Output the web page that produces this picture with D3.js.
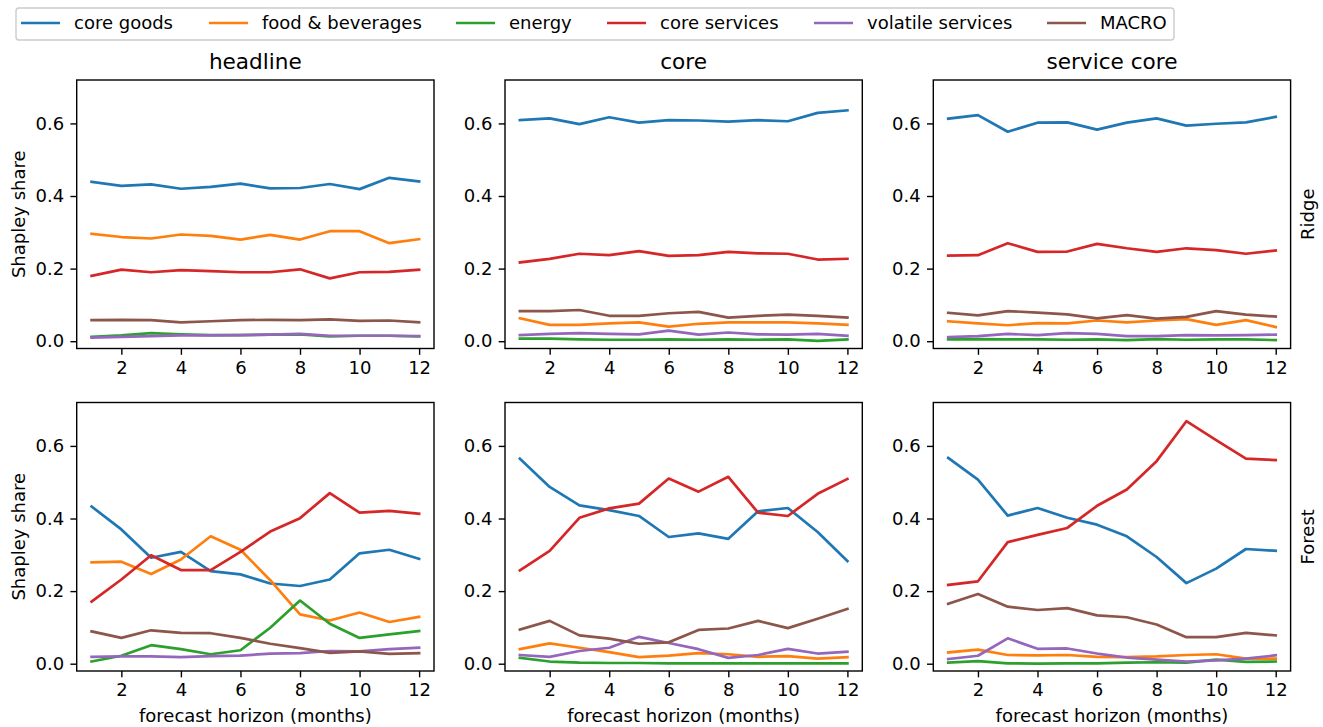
<!DOCTYPE html>
<html>
<head>
<meta charset="utf-8">
<script src="https://cdn.jsdelivr.net/npm/d3@7"></script>
<style>
  html, body { margin: 0; padding: 0; background: #fff; }
  svg { display: block; font-family: "DejaVu Sans", sans-serif; }
</style>
</head>
<body>
<svg id="chart" width="1323" height="727"></svg>
<script>
// Series names and colours (legend order = drawing order)
const components = ["core goods", "food & beverages", "energy", "core services", "volatile services", "MACRO"];
const colors = ["#1f77b4", "#ff7f0e", "#2ca02c", "#d62728", "#9467bd", "#8c564b"];
const horizons = [1, 2, 3, 4, 5, 6, 7, 8, 9, 10, 11, 12];
const xTicks = [2, 4, 6, 8, 10, 12];
const yTicks = [0.0, 0.2, 0.4, 0.6];
const targets = ["headline", "core", "service core"];
const models = ["Ridge", "Forest"];

// Shapley shares per horizon, one row per component (same order as `components`)
const ridgeHeadline = [
  [0.439, 0.428, 0.432, 0.420, 0.425, 0.434, 0.421, 0.422, 0.433, 0.419, 0.450, 0.440],
  [0.296, 0.287, 0.283, 0.294, 0.290, 0.280, 0.293, 0.280, 0.303, 0.303, 0.270, 0.281],
  [0.012, 0.016, 0.022, 0.019, 0.017, 0.017, 0.018, 0.019, 0.013, 0.015, 0.015, 0.013],
  [0.180, 0.197, 0.190, 0.196, 0.193, 0.190, 0.190, 0.198, 0.173, 0.190, 0.191, 0.197],
  [0.010, 0.012, 0.014, 0.016, 0.016, 0.017, 0.018, 0.020, 0.015, 0.015, 0.015, 0.014],
  [0.058, 0.059, 0.058, 0.052, 0.055, 0.058, 0.059, 0.058, 0.060, 0.056, 0.057, 0.052]
];
const ridgeCore = [
  [0.609, 0.614, 0.598, 0.617, 0.602, 0.609, 0.608, 0.605, 0.609, 0.606, 0.629, 0.636],
  [0.063, 0.045, 0.045, 0.049, 0.052, 0.040, 0.048, 0.052, 0.052, 0.052, 0.049, 0.045],
  [0.007, 0.007, 0.005, 0.004, 0.004, 0.005, 0.004, 0.005, 0.004, 0.005, 0.001, 0.005],
  [0.217, 0.227, 0.241, 0.237, 0.248, 0.235, 0.237, 0.246, 0.242, 0.241, 0.225, 0.227],
  [0.017, 0.020, 0.022, 0.020, 0.019, 0.029, 0.018, 0.024, 0.019, 0.018, 0.020, 0.015],
  [0.083, 0.083, 0.086, 0.070, 0.070, 0.077, 0.081, 0.065, 0.070, 0.073, 0.070, 0.065]
];
const ridgeServiceCore = [
  [0.613, 0.623, 0.577, 0.602, 0.603, 0.583, 0.602, 0.614, 0.594, 0.599, 0.603, 0.618],
  [0.055, 0.049, 0.044, 0.050, 0.049, 0.057, 0.052, 0.057, 0.061, 0.045, 0.058, 0.039],
  [0.005, 0.006, 0.005, 0.005, 0.004, 0.005, 0.003, 0.006, 0.004, 0.005, 0.005, 0.003],
  [0.236, 0.237, 0.270, 0.246, 0.247, 0.268, 0.256, 0.246, 0.256, 0.251, 0.241, 0.250],
  [0.011, 0.014, 0.020, 0.017, 0.022, 0.020, 0.014, 0.014, 0.017, 0.016, 0.017, 0.018],
  [0.078, 0.071, 0.083, 0.079, 0.074, 0.063, 0.072, 0.062, 0.067, 0.083, 0.073, 0.068]
];
const forestHeadline = [
  [0.433, 0.370, 0.292, 0.308, 0.255, 0.246, 0.221, 0.214, 0.232, 0.304, 0.314, 0.289],
  [0.279, 0.281, 0.247, 0.287, 0.351, 0.314, 0.230, 0.136, 0.119, 0.141, 0.115, 0.129],
  [0.006, 0.022, 0.051, 0.040, 0.026, 0.037, 0.099, 0.174, 0.110, 0.071, 0.081, 0.090],
  [0.171, 0.232, 0.299, 0.258, 0.258, 0.308, 0.364, 0.401, 0.470, 0.416, 0.421, 0.413],
  [0.019, 0.020, 0.020, 0.018, 0.021, 0.022, 0.028, 0.029, 0.035, 0.034, 0.040, 0.044],
  [0.089, 0.071, 0.092, 0.085, 0.084, 0.071, 0.055, 0.043, 0.030, 0.034, 0.027, 0.029]
];
const forestCore = [
  [0.565, 0.487, 0.436, 0.423, 0.407, 0.349, 0.359, 0.344, 0.420, 0.429, 0.363, 0.283],
  [0.040, 0.056, 0.044, 0.032, 0.018, 0.022, 0.029, 0.026, 0.019, 0.021, 0.014, 0.018],
  [0.016, 0.006, 0.003, 0.002, 0.002, 0.001, 0.001, 0.001, 0.001, 0.001, 0.001, 0.001],
  [0.257, 0.311, 0.402, 0.428, 0.441, 0.510, 0.474, 0.515, 0.416, 0.407, 0.468, 0.509],
  [0.024, 0.019, 0.035, 0.044, 0.074, 0.057, 0.040, 0.016, 0.024, 0.041, 0.028, 0.033],
  [0.094, 0.118, 0.078, 0.069, 0.055, 0.059, 0.093, 0.097, 0.118, 0.098, 0.124, 0.151]
];
const forestServiceCore = [
  [0.567, 0.507, 0.408, 0.429, 0.402, 0.383, 0.351, 0.294, 0.222, 0.262, 0.316, 0.311],
  [0.031, 0.039, 0.024, 0.023, 0.024, 0.019, 0.018, 0.020, 0.024, 0.026, 0.014, 0.014],
  [0.003, 0.007, 0.001, 0.000, 0.001, 0.001, 0.003, 0.004, 0.003, 0.011, 0.005, 0.006],
  [0.217, 0.227, 0.335, 0.355, 0.374, 0.435, 0.480, 0.558, 0.668, 0.616, 0.565, 0.561],
  [0.013, 0.022, 0.070, 0.041, 0.042, 0.028, 0.017, 0.011, 0.006, 0.009, 0.014, 0.023],
  [0.165, 0.192, 0.157, 0.148, 0.153, 0.133, 0.128, 0.108, 0.073, 0.073, 0.085, 0.078]
];

const panelData = [
  [ridgeHeadline, ridgeCore, ridgeServiceCore],
  [forestHeadline, forestCore, forestServiceCore]
];

// ---- layout ----
const FONT = 18;            // tick / label / legend size
const TITLE_FONT = 21.6;
const colLeft = [76.7, 505, 933.3];
const rowTop = [80, 402.5];
const panelW = 357.3, panelH = 268.5;
const tickLen = 6.3, tickPad = 6.3;

const svg = d3.select("#chart");

const x = d3.scaleLinear().domain([0.5, 12.5]).range([0, panelW]);
const y = d3.scaleLinear().domain([-0.0201, 0.7196]).range([panelH, 0]);

const line = d3.line()
  .x((d, i) => x(horizons[i]))
  .y(d => y(d));

panelData.forEach((row, r) => {
  row.forEach((series, c) => {
    const g = svg.append("g").attr("transform", `translate(${colLeft[c]},${rowTop[r]})`);

    // clip so lines stay inside the frame
    const clipId = `clip-${r}-${c}`;
    g.append("clipPath").attr("id", clipId)
      .append("rect").attr("width", panelW).attr("height", panelH);

    const lines = g.append("g").attr("clip-path", `url(#${clipId})`);
    series.forEach((vals, k) => {
      lines.append("path")
        .datum(vals)
        .attr("d", line)
        .attr("fill", "none")
        .attr("stroke", colors[k])
        .attr("stroke-width", 2.7)
        .attr("stroke-linejoin", "round")
        .attr("stroke-linecap", "square");
    });

    // axes
    const xAxis = g.append("g")
      .attr("transform", `translate(0,${panelH})`)
      .call(d3.axisBottom(x).tickValues(xTicks).tickFormat(d3.format("d"))
        .tickSizeInner(tickLen).tickSizeOuter(0).tickPadding(tickPad));
    const yAxis = g.append("g")
      .call(d3.axisLeft(y).tickValues(yTicks).tickFormat(d3.format(".1f"))
        .tickSizeInner(tickLen).tickSizeOuter(0).tickPadding(tickPad));
    [xAxis, yAxis].forEach(a => {
      a.select(".domain").remove();
      a.selectAll(".tick line").attr("stroke", "#000").attr("stroke-width", 1.4);
      a.selectAll(".tick text").attr("fill", "#000")
        .style("font-size", FONT + "px").style("font-family", "DejaVu Sans");
    });

    // frame
    g.append("rect")
      .attr("width", panelW).attr("height", panelH)
      .attr("fill", "none").attr("stroke", "#000").attr("stroke-width", 1.4);

    // column titles on the top row
    if (r === 0) {
      g.append("text")
        .attr("x", panelW / 2).attr("y", -10.8)
        .attr("text-anchor", "middle")
        .style("font-size", TITLE_FONT + "px")
        .text(targets[c]);
    }
    // x label on the bottom row
    if (r === 1) {
      g.append("text")
        .attr("x", panelW / 2).attr("y", panelH + 51)
        .attr("text-anchor", "middle")
        .style("font-size", FONT + "px")
        .text("forecast horizon (months)");
    }
    // y label on the first column
    if (c === 0) {
      g.append("text")
        .attr("transform", `translate(-52,${panelH / 2}) rotate(-90)`)
        .attr("text-anchor", "middle")
        .style("font-size", FONT + "px")
        .text("Shapley share");
    }
    // model label on the right side
    if (c === 2) {
      g.append("text")
        .attr("transform", `translate(${panelW + 23},${panelH / 2}) rotate(-90)`)
        .attr("text-anchor", "middle")
        .style("font-size", FONT + "px")
        .text(models[r]);
    }
  });
});

// ---- legend ----
const legend = svg.append("g");
legend.append("rect")
  .attr("x", 16).attr("y", 8).attr("width", 1158).attr("height", 32)
  .attr("rx", 3).attr("ry", 3)
  .attr("fill", "#fff").attr("fill-opacity", 0.8)
  .attr("stroke", "#cccccc").attr("stroke-width", 1.4);

const handleX = [21, 209, 456, 607, 814, 1047];
const legendY = 23;
components.forEach((name, k) => {
  legend.append("line")
    .attr("x1", handleX[k]).attr("x2", handleX[k] + 39)
    .attr("y1", legendY).attr("y2", legendY)
    .attr("stroke", colors[k]).attr("stroke-width", 2.7);
  legend.append("text")
    .attr("x", handleX[k] + 53).attr("y", legendY)
    .attr("dy", "0.35em")
    .style("font-size", FONT + "px")
    .text(name);
});
</script>
</body>
</html>
